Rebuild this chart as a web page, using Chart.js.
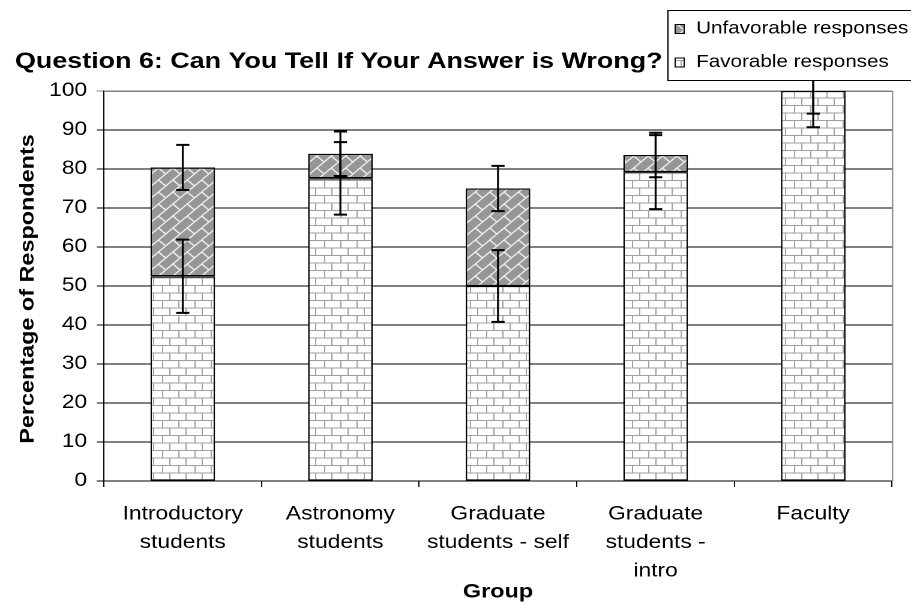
<!DOCTYPE html>
<html>
<head>
<meta charset="utf-8">
<script src="https://cdn.jsdelivr.net/npm/chart.js@4.4.1/dist/chart.umd.min.js"></script>
<style>
  html, body { margin: 0; padding: 0; background: #fff; overflow: hidden; }
  /* the original text is drawn about 20% wider than normal Arial, so the
     whole canvas is laid out narrower and stretched back to 911px */
  #wrap { width: 759px; height: 604px; transform-origin: 0 0; transform: scaleX(1.20026); }
</style>
</head>
<body>
<div id="wrap"><canvas id="chart"></canvas></div>
<script>
const groups = [
  ["Introductory", "students"],
  ["Astronomy", "students"],
  ["Graduate", "students - self"],
  ["Graduate", "students -", "intro"],
  ["Faculty"]
];
const favorable = [52.5, 77.6, 50, 79.2, 100];
const unfavorable = [27.9, 6.3, 25, 4.4, 0];
const favorableErr = [9.4, 9.3, 9.2, 9.5, 9.3];
const totalErr = [5.8, 5.7, 5.8, 5.7, 5.8];
const totals = favorable.map((v, i) => v + unfavorable[i]);

const FONT = "'Liberation Sans', Arial, sans-serif";
const STRETCH = 1.20026;

function brickPattern() {
  const c = document.createElement('canvas');
  c.width = 27; c.height = 30;
  const g = c.getContext('2d');
  g.fillStyle = '#a0a0a0';
  g.fillRect(0, 0, 27, 30);
  g.fillStyle = '#ffffff';
  g.fillRect(2, 2, 25, 13);
  g.fillRect(0, 17, 12, 13);
  g.fillRect(14, 17, 13, 13);
  const p = g.createPattern(c, 'repeat');
  p.setTransform(new DOMMatrix().scale(0.5));
  return p;
}

// diagonal running-bond bricks: "/" courses with short "\" joints
function diagPattern() {
  const c = document.createElement('canvas');
  c.width = 48; c.height = 48;
  const g = c.getContext('2d');
  g.fillStyle = '#969696';
  g.fillRect(0, 0, 48, 48);
  g.strokeStyle = '#ededed';
  g.lineWidth = 2.5;
  g.beginPath();
  for (let k = -3; k <= 7; k++) {
    g.moveTo(-48, 24 * k + 48);
    g.lineTo(96, 24 * k - 96);
    for (let n = -4; n <= 6; n++) {
      const t = 24 * n;
      g.moveTo(t, 24 * k - t);
      g.lineTo(t + 12, 24 * k - t + 12);
    }
  }
  g.stroke();
  const p = g.createPattern(c, 'repeat');
  p.setTransform(new DOMMatrix().scale(0.5));
  return p;
}

const favFill = brickPattern();
const unfavFill = diagPattern();

// --- frame (gray top/right border) ---
const framePlugin = {
  id: 'frame',
  beforeDatasetsDraw(chart) {
    const { ctx, chartArea: a } = chart;
    ctx.save();
    ctx.strokeStyle = '#808080';
    ctx.lineWidth = 1;
    ctx.beginPath();
    ctx.moveTo(a.left, a.top + 0.5);
    ctx.lineTo(a.right + 0.5, a.top + 0.5);
    ctx.lineTo(a.right + 0.5, a.bottom);
    ctx.stroke();
    ctx.restore();
  }
};

// --- error bars on both stacked segments ---
const errorBarPlugin = {
  id: 'errorBars',
  afterDatasetsDraw(chart) {
    const { ctx } = chart;
    const y = chart.scales.y;
    ctx.save();
    ctx.strokeStyle = '#000';
    [[favorable, favorableErr, 0], [totals, totalErr, 1]].forEach(([vals, errs, d]) => {
      chart.getDatasetMeta(d).data.forEach((bar, i) => {
        const top = y.getPixelForValue(vals[i] + errs[i]);
        const bot = y.getPixelForValue(vals[i] - errs[i]);
        ctx.lineWidth = 1.6;
        ctx.beginPath();
        ctx.moveTo(bar.x, top);
        ctx.lineTo(bar.x, bot);
        ctx.stroke();
        ctx.lineWidth = 2;
        ctx.beginPath();
        ctx.moveTo(bar.x - 5.5, top); ctx.lineTo(bar.x + 5.5, top);
        ctx.moveTo(bar.x - 5.5, bot); ctx.lineTo(bar.x + 5.5, bot);
        ctx.stroke();
      });
    });
    ctx.restore();
  }
};

// --- title, rotated y title, boxed legend ---
const textPlugin = {
  id: 'texts',
  afterDraw(chart) {
    const { ctx, chartArea: a } = chart;
    ctx.save();
    ctx.fillStyle = '#000';
    ctx.font = 'bold 22.4px ' + FONT;
    ctx.textAlign = 'left';
    ctx.textBaseline = 'middle';
    ctx.fillText('Question 6: Can You Tell If Your Answer is Wrong?', 12.5, 62);

    // y title: stretch along its own length, not across it
    ctx.save();
    ctx.translate(23.3, (a.top + a.bottom) / 2 + 3);
    ctx.scale(1 / STRETCH, 1);
    ctx.rotate(-Math.PI / 2);
    ctx.scale(STRETCH, 1);
    ctx.font = 'bold 19.5px ' + FONT;
    ctx.textAlign = 'center';
    ctx.fillText('Percentage of Respondents', 0, 0);
    ctx.restore();

    // legend box
    ctx.fillStyle = '#fff';
    ctx.fillRect(556.5, 10.5, 220, 70);
    ctx.strokeStyle = '#000';
    ctx.lineWidth = 1;
    ctx.strokeRect(556.5, 10.5, 220, 70);
    const items = [
      ['Unfavorable responses', unfavFill, 29],
      ['Favorable responses', favFill, 62.5]
    ];
    ctx.font = '17.2px ' + FONT;
    ctx.textAlign = 'left';
    items.forEach(([label, fill, yy]) => {
      ctx.fillStyle = fill;
      ctx.fillRect(562.5, yy - 4.5, 7.5, 9);
      ctx.strokeStyle = '#000';
      ctx.strokeRect(562.5, yy - 4.5, 7.5, 9);
      ctx.fillStyle = '#000';
      ctx.fillText(label, 580, yy);
    });
    ctx.restore();
  }
};

new Chart(document.getElementById('chart'), {
  type: 'bar',
  data: {
    labels: groups,
    datasets: [
      {
        label: 'Favorable responses',
        data: favorable,
        backgroundColor: favFill,
        borderColor: '#000',
        borderWidth: 1.3,
        borderSkipped: false
      },
      {
        label: 'Unfavorable responses',
        data: unfavorable,
        backgroundColor: unfavFill,
        borderColor: '#000',
        borderWidth: 1.3,
        borderSkipped: false
      }
    ]
  },
  options: {
    responsive: true,
    maintainAspectRatio: false,
    devicePixelRatio: 2,
    animation: false,
    categoryPercentage: 1,
    barPercentage: 0.41,
    layout: { padding: { top: 91, right: 15.8, bottom: 0, left: 0 } },
    plugins: {
      legend: { display: false },
      title: { display: false },
      tooltip: { enabled: false }
    },
    scales: {
      x: {
        stacked: true,
        afterFit: s => { s.height = 123; },
        grid: { drawOnChartArea: false, drawTicks: true, tickLength: 6, color: '#000', offset: true },
        border: { color: '#000', width: 1 },
        ticks: {
          color: '#000',
          padding: 13,
          maxRotation: 0,
          autoSkip: false,
          font: { family: FONT, size: 19, lineHeight: 1.5 }
        },
        title: {
          display: true,
          text: 'Group',
          color: '#000',
          padding: { top: 0, bottom: 0 },
          font: { family: FONT, size: 19.5, weight: 'bold' }
        }
      },
      y: {
        stacked: true,
        min: 0,
        max: 100,
        afterFit: s => { s.width = 86.6; },
        grid: {
          color: c => (c.tick && c.tick.value === 100 ? '#808080' : '#000'),
          lineWidth: 1,
          tickLength: 6
        },
        border: { color: '#000', width: 1 },
        ticks: {
          stepSize: 10,
          color: '#000',
          padding: 8,
          font: { family: FONT, size: 19 }
        }
      }
    }
  },
  plugins: [framePlugin, errorBarPlugin, textPlugin]
});
</script>
</body>
</html>
